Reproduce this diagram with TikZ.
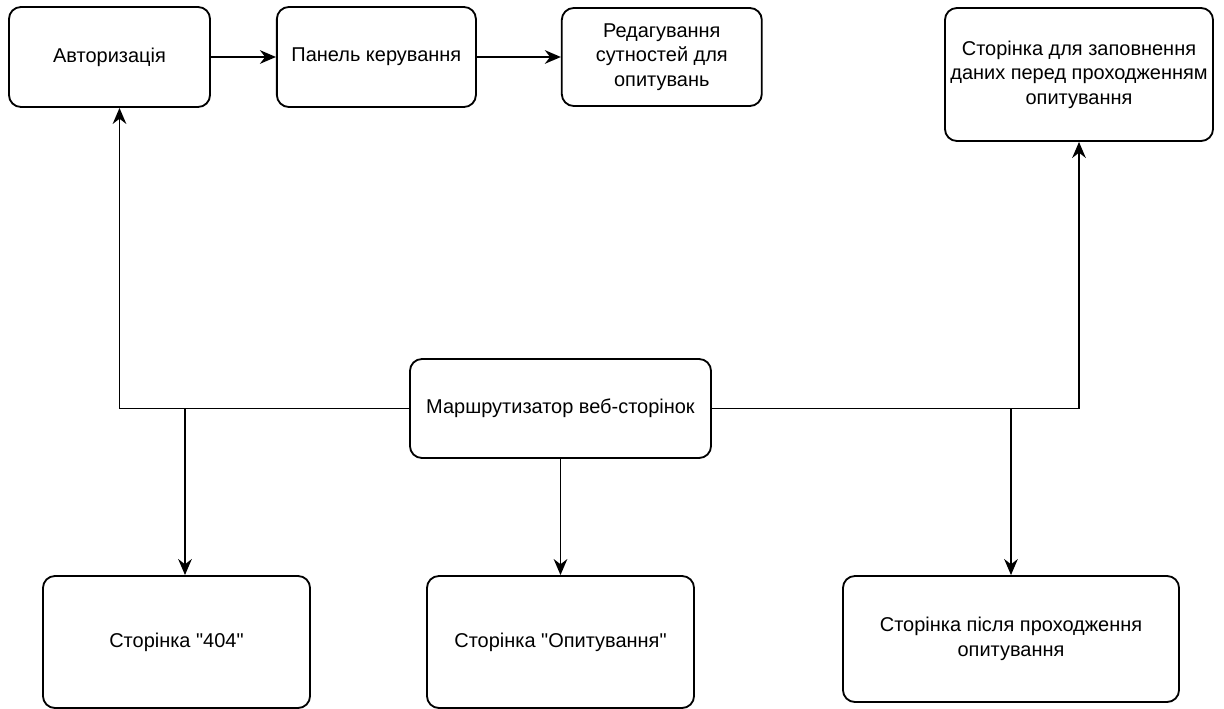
\documentclass[tikz,border=0pt]{standalone}
\usepackage{fontspec}
\setmainfont{Liberation Sans}[Ligatures=TeXOff]
\usepackage{tikz}
\usetikzlibrary{positioning,arrows.meta,calc}
\tikzset{
    page/.style={draw=black, fill=white, rounded corners=0.3cm, line width=1.3pt, align=center, font=\fontsize{14.2}{17.5}\selectfont, inner sep=0pt},
    arrow/.style={-{Stealth[length=4mm, width=3.4mm, inset=1.3mm]}, line width=1.3pt, draw=black},
    wire/.style={line width=1.3pt, draw=black}
}
\begin{document}
\begin{tikzpicture}[x=0.025cm, y=-0.025cm]
\useasboundingbox (0,0) rectangle (1224,709);
% top row
\node[page, minimum width=5.025cm, minimum height=2.5cm] (auth) at (109.5,57) {Авторизація};
\node[page, minimum width=4.975cm, minimum height=2.5cm, right=1.625cm of auth] (panel) {Панель керування};
\node[page, minimum width=5cm, minimum height=2.45cm, right=2.1cm of panel] (edit) {Редагування\\сутностей для\\опитувань};
\node[page, minimum width=6.7cm, minimum height=3.325cm] (fill) at (1079,74.5) {Сторінка для заповнення\\даних перед проходженням\\опитування};
% router
\node[page, minimum width=7.525cm, minimum height=2.475cm] (router) at (560.5,408.5) {Маршрутизатор веб-сторінок};
% bottom row
\node[page, minimum width=6.675cm, minimum height=3.3cm] (p404) at (176.5,642) {Сторінка "404"};
\node[page, minimum width=6.675cm, minimum height=3.3cm] (poll) at (560.5,642) {Сторінка "Опитування"};
\node[page, minimum width=8.4cm, minimum height=3.15cm] (after) at (1011,639) {Сторінка після проходження\\опитування};
% junctions
\coordinate (j404) at (185,408.5);
\coordinate (jafter) at (after.north |- router.east);
% connectors
\draw[arrow] (auth) -- (panel);
\draw[arrow] (panel) -- (edit);
\draw[arrow] (router.west) -| ([xshift=0.25cm]auth.south);
\draw[arrow] (j404) -- (j404 |- p404.north);
\draw[arrow] (router) -- (poll);
\draw[arrow] (router.east) -| (fill.south);
\draw[arrow] (jafter) -- (after.north);
\end{tikzpicture}
\end{document}
